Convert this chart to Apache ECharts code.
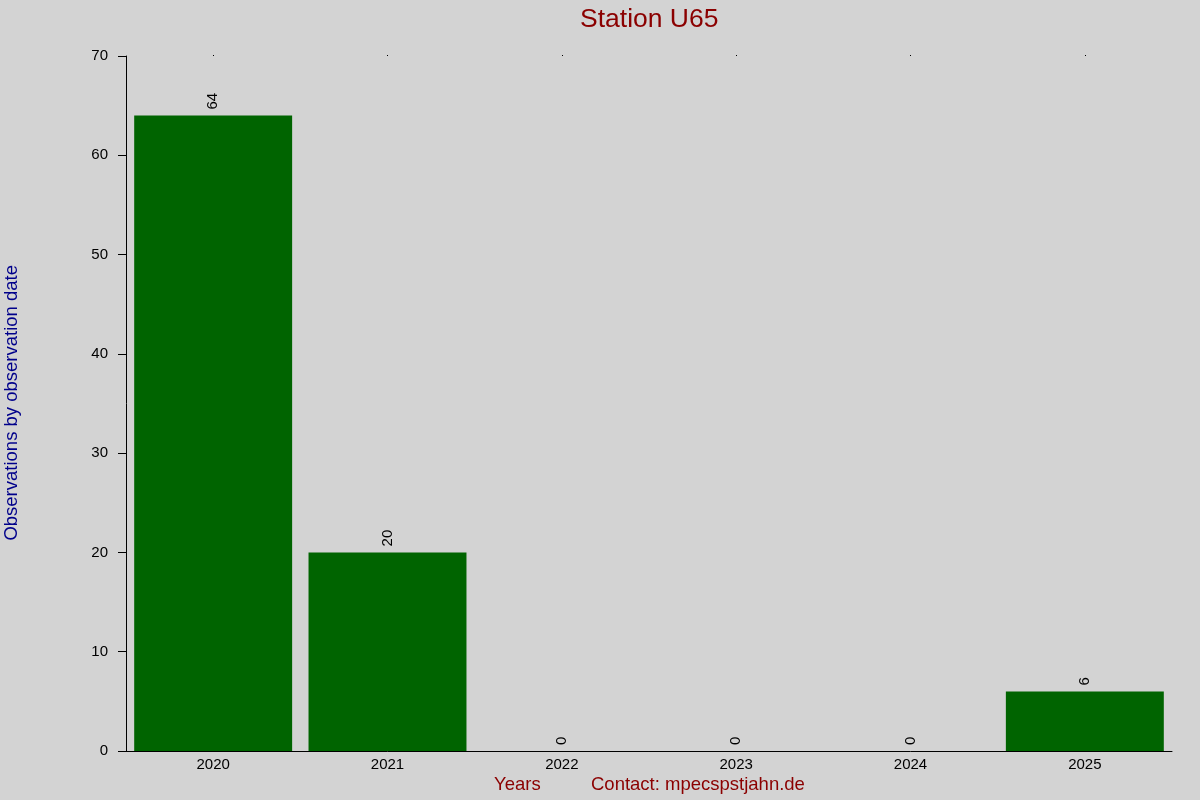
<!DOCTYPE html>
<html><head><meta charset="utf-8">
<script src="https://cdn.jsdelivr.net/npm/echarts@6/dist/echarts.min.js"></script>
<style>html,body{margin:0;padding:0;background:#d3d3d3}#c{width:1200px;height:800px}</style>
</head><body><div id="c"></div>
<script>
const years = ['2020','2021','2022','2023','2024','2025'];
const observations = [64, 20, 0, 0, 0, 6];
const yTicks = {min: 0, max: 70, interval: 10};
const titleText = 'Station U65';
const yName = 'Observations by observation date';
const xName = 'Years';
const contact = 'Contact: mpecspstjahn.de';

const FONT = 'Liberation Sans, Arial, sans-serif';
const chart = echarts.init(document.getElementById('c'));
chart.setOption({
  backgroundColor: '#d3d3d3',
  animation: false,
  title: {text: titleText, left: 575, top: 1, textStyle: {color: '#8b0000', fontSize: 26.5, fontWeight: 'normal', fontFamily: FONT}},
  grid: {left: 126, right: 28, top: 56, bottom: 49},
  xAxis: [{
    type: 'category', data: years, boundaryGap: true,
    axisLine: {lineStyle: {color: '#000', width: 1}},
    axisTick: {show: false},
    axisLabel: {color: '#000', fontSize: 15, fontFamily: FONT, margin: 6}
  }, {
    type: 'category', data: years, position: 'top', boundaryGap: true,
    axisLine: {show: false},
    axisTick: {show: true, alignWithLabel: true, length: 1, lineStyle: {color: '#000'}},
    axisLabel: {show: false}
  }],
  yAxis: {
    type: 'value', min: yTicks.min, max: yTicks.max, interval: yTicks.interval,
    axisLine: {show: true, lineStyle: {color: '#000'}},
    axisTick: {show: true, length: 8, lineStyle: {color: '#000'}},
    splitLine: {show: false},
    axisLabel: {color: '#000', fontSize: 15, fontFamily: FONT, margin: 18}
  },
  series: [{
    type: 'bar', data: observations, barCategoryGap: '9.4%',
    itemStyle: {color: '#006400'},
    label: {show: true, position: 'top', rotate: 90, distance: 6, color: '#000', fontSize: 15, fontFamily: FONT, align: 'left', verticalAlign: 'middle'}
  }],
  graphic: [
    {type: 'text', left: 2, top: 265, rotation: Math.PI/2, style: {text: yName, fill: '#00008b', font: '18.5px ' + FONT}},
    {type: 'text', left: 494, top: 775, style: {text: xName, fill: '#8b0000', font: '18.5px ' + FONT}},
    {type: 'text', left: 591, top: 775, style: {text: contact, fill: '#8b0000', font: '18.5px ' + FONT}}
  ]
});
</script></body></html>
